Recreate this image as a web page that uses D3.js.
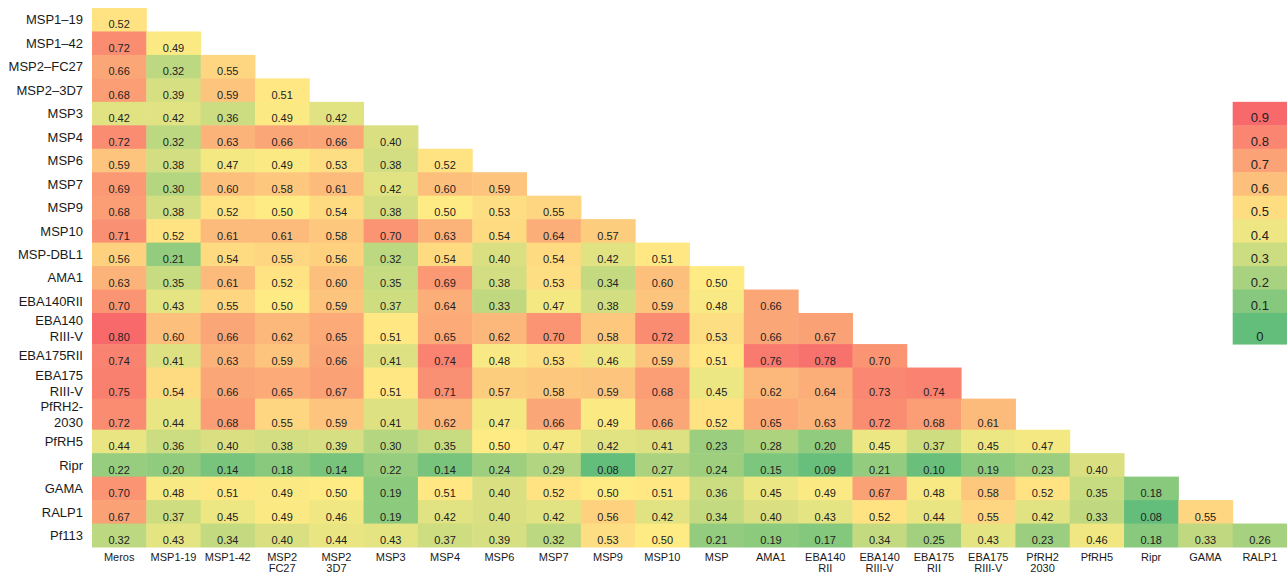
<!DOCTYPE html>
<html>
<head>
<meta charset="utf-8">
<script src="https://cdn.jsdelivr.net/npm/d3@7"></script>
<style>
  body { margin: 0; background: #fff; }
  svg { display: block; font-family: "Liberation Sans", Arial, Helvetica, sans-serif; }
</style>
</head>
<body>
<svg id="chart" width="1287" height="574"></svg>
<script>
// row labels (left side), "\n" marks a two line label
var rowLabels = ["MSP1\u201319", "MSP1\u201342", "MSP2\u2013FC27", "MSP2\u20133D7", "MSP3", "MSP4", "MSP6", "MSP7",
    "MSP9", "MSP10", "MSP-DBL1", "AMA1", "EBA140RII", "EBA140\nRIII-V", "EBA175RII", "EBA175\nRIII-V",
    "PfRH2-\n2030", "PfRH5", "Ripr", "GAMA", "RALP1", "Pf113"];

// column labels (bottom)
var colLabels = ["Meros", "MSP1-19", "MSP1-42", "MSP2\nFC27", "MSP2\n3D7", "MSP3", "MSP4", "MSP6", "MSP7",
    "MSP9", "MSP10", "MSP", "AMA1", "EBA140\nRII", "EBA140\nRIII-V", "EBA175\nRII", "EBA175\nRIII-V",
    "PfRH2\n2030", "PfRH5", "Ripr", "GAMA", "RALP1"];

// lower triangle, row i holds columns 0..i
var values = [
    [0.52],
    [0.72, 0.49],
    [0.66, 0.32, 0.55],
    [0.68, 0.39, 0.59, 0.51],
    [0.42, 0.42, 0.36, 0.49, 0.42],
    [0.72, 0.32, 0.63, 0.66, 0.66, 0.40],
    [0.59, 0.38, 0.47, 0.49, 0.53, 0.38, 0.52],
    [0.69, 0.30, 0.60, 0.58, 0.61, 0.42, 0.60, 0.59],
    [0.68, 0.38, 0.52, 0.50, 0.54, 0.38, 0.50, 0.53, 0.55],
    [0.71, 0.52, 0.61, 0.61, 0.58, 0.70, 0.63, 0.54, 0.64, 0.57],
    [0.56, 0.21, 0.54, 0.55, 0.56, 0.32, 0.54, 0.40, 0.54, 0.42, 0.51],
    [0.63, 0.35, 0.61, 0.52, 0.60, 0.35, 0.69, 0.38, 0.53, 0.34, 0.60, 0.50],
    [0.70, 0.43, 0.55, 0.50, 0.59, 0.37, 0.64, 0.33, 0.47, 0.38, 0.59, 0.48, 0.66],
    [0.80, 0.60, 0.66, 0.62, 0.65, 0.51, 0.65, 0.62, 0.70, 0.58, 0.72, 0.53, 0.66, 0.67],
    [0.74, 0.41, 0.63, 0.59, 0.66, 0.41, 0.74, 0.48, 0.53, 0.46, 0.59, 0.51, 0.76, 0.78, 0.70],
    [0.75, 0.54, 0.66, 0.65, 0.67, 0.51, 0.71, 0.57, 0.58, 0.59, 0.68, 0.45, 0.62, 0.64, 0.73, 0.74],
    [0.72, 0.44, 0.68, 0.55, 0.59, 0.41, 0.62, 0.47, 0.66, 0.49, 0.66, 0.52, 0.65, 0.63, 0.72, 0.68, 0.61],
    [0.44, 0.36, 0.40, 0.38, 0.39, 0.30, 0.35, 0.50, 0.47, 0.42, 0.41, 0.23, 0.28, 0.20, 0.45, 0.37, 0.45, 0.47],
    [0.22, 0.20, 0.14, 0.18, 0.14, 0.22, 0.14, 0.24, 0.29, 0.08, 0.27, 0.24, 0.15, 0.09, 0.21, 0.10, 0.19, 0.23, 0.40],
    [0.70, 0.48, 0.51, 0.49, 0.50, 0.19, 0.51, 0.40, 0.52, 0.50, 0.51, 0.36, 0.45, 0.49, 0.67, 0.48, 0.58, 0.52, 0.35, 0.18],
    [0.67, 0.37, 0.45, 0.49, 0.46, 0.19, 0.42, 0.40, 0.42, 0.56, 0.42, 0.34, 0.40, 0.43, 0.52, 0.44, 0.55, 0.42, 0.33, 0.08, 0.55],
    [0.32, 0.43, 0.34, 0.40, 0.44, 0.43, 0.37, 0.39, 0.32, 0.53, 0.50, 0.21, 0.19, 0.17, 0.34, 0.25, 0.43, 0.23, 0.46, 0.18, 0.33, 0.26]
];

// legend blocks, top to bottom
var legendTicks = [0.9, 0.8, 0.7, 0.6, 0.5, 0.4, 0.3, 0.2, 0.1, 0];

var svg = d3.select("#chart");
var tallRow = 1.325; // two line rows are a bit taller
var legendStartRow = 4; // legend sits in the last column, starting at the MSP3 row

// rows have different heights, so map cumulative row units to pixels
var rowUnits = rowLabels.map(function (l) { return l.indexOf("\n") >= 0 ? tallRow : 1; });
var rowStart = [0];
rowUnits.forEach(function (u, i) { rowStart.push(rowStart[i] + u); });
var y = d3.scaleLinear().domain([0, rowStart[rowStart.length - 1]]).range([8, 547]);
function rowTop(i) { return y(rowStart[i]); }
function rowBottom(i) { return y(rowStart[i + 1]); }

var x = d3.scaleBand().domain(d3.range(colLabels.length)).range([92, 1287]).padding(0);

// flatten the triangle
var cells = [];
values.forEach(function (row, i) {
    row.forEach(function (v, j) { cells.push({r: i, c: j, v: v}); });
});

var allVals = cells.map(function (d) { return d.v; });
// green - yellow - red, min / median / max like a spreadsheet colour scale
var color = d3.scaleLinear()
    .domain([d3.min(allVals), d3.median(allVals), d3.max(allVals)])
    .range(["#63BE7B", "#FFEB84", "#F8696B"]);
var legendColor = d3.scaleLinear()
    .domain([0, 0.45, 0.9])
    .range(["#63BE7B", "#FFEB84", "#F8696B"]);

var cellG = svg.append("g");
cellG.selectAll("rect")
    .data(cells)
    .enter().append("rect")
    .attr("x", function (d) { return x(d.c); })
    .attr("y", function (d) { return rowTop(d.r); })
    .attr("width", x.bandwidth() + 0.5)
    .attr("height", function (d) { return rowBottom(d.r) - rowTop(d.r) + 0.5; })
    .attr("fill", function (d) { return color(d.v); });

cellG.selectAll("text")
    .data(cells)
    .enter().append("text")
    .attr("x", function (d) { return x(d.c) + x.bandwidth() / 2; })
    .attr("y", function (d) { return rowBottom(d.r) - 3; })
    .attr("text-anchor", "middle")
    .attr("font-size", 11)
    .attr("fill", "#222")
    .text(function (d) { return d3.format(".2f")(d.v); });

// row labels, vertically centred
var rowG = svg.append("g");
rowLabels.forEach(function (label, i) {
    var lines = label.split("\n");
    var mid = (rowTop(i) + rowBottom(i)) / 2;
    var t = rowG.append("text")
        .attr("text-anchor", "end")
        .attr("font-size", 13)
        .attr("fill", "#1a1a1a");
    lines.forEach(function (line, k) {
        t.append("tspan")
            .attr("x", 83)
            .attr("y", mid + 4.7 + (k - (lines.length - 1) / 2) * 15.5)
            .text(line);
    });
});

// column labels
var colG = svg.append("g");
colLabels.forEach(function (label, j) {
    var t = colG.append("text")
        .attr("text-anchor", "middle")
        .attr("font-size", 11)
        .attr("fill", "#1a1a1a");
    label.split("\n").forEach(function (line, k) {
        t.append("tspan")
            .attr("x", x(j) + x.bandwidth() / 2)
            .attr("y", 560.5 + k * 11)
            .text(line);
    });
});

// legend in the last column
var lastCol = colLabels.length - 1;
var legG = svg.append("g");
legG.selectAll("rect")
    .data(legendTicks)
    .enter().append("rect")
    .attr("x", x(lastCol))
    .attr("y", function (d, k) { return rowTop(legendStartRow + k); })
    .attr("width", x.bandwidth())
    .attr("height", function (d, k) { return rowBottom(legendStartRow + k) - rowTop(legendStartRow + k) + 0.5; })
    .attr("fill", function (d) { return legendColor(d); });

legG.selectAll("text")
    .data(legendTicks)
    .enter().append("text")
    .attr("x", x(lastCol) + x.bandwidth() / 2)
    .attr("y", function (d, k) { return rowBottom(legendStartRow + k) - 3; })
    .attr("text-anchor", "middle")
    .attr("font-size", 13)
    .attr("fill", "#222")
    .text(function (d) { return d === 0 ? "0" : d3.format(".1f")(d); });
</script>
</body>
</html>
